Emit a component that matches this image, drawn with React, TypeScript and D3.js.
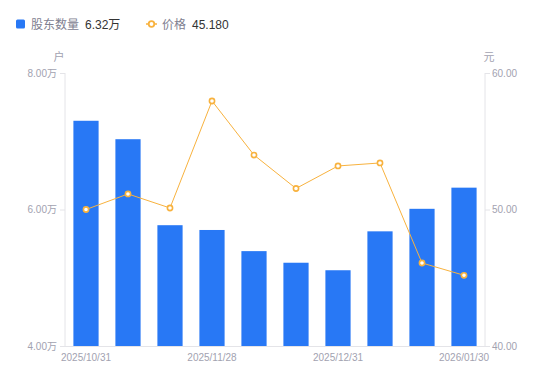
import React from "react";
import * as d3 from "d3";

const categories = [
  "2025/10/31", "2025/11/10", "2025/11/20", "2025/11/28", "2025/12/10",
  "2025/12/20", "2025/12/31", "2026/01/09", "2026/01/20", "2026/01/30",
];
const holders = [7.30, 7.03, 5.77, 5.70, 5.39, 5.22, 5.11, 5.68, 6.01, 6.32];
const prices = [50.0, 51.14, 50.11, 57.95, 53.99, 51.54, 53.19, 53.41, 46.08, 45.18];
const leftTicks = [4, 6, 8];
const rightTicks = [40, 50, 60];
const shownLabels = ["2025/10/31", "2025/11/28", "2025/12/31", "2026/01/30"];

const W = 550, H = 381;
const L = 65, R = 485, T = 73, B = 346;
const BLUE = "#2878f5";
const ORANGE = "#f8b23e";
const AXIS = "#e4e4e8";
const TXT = "#a2a2b0";
const FONT = "'Liberation Sans', Arial, 'Noto Sans CJK SC', sans-serif";

export default function App() {
  const x = d3.scaleBand<string>().domain(categories).range([L, R]).paddingInner(0).paddingOuter(0);
  const yl = d3.scaleLinear().domain([4, 8]).range([B, T]);
  const yr = d3.scaleLinear().domain([40, 60]).range([B, T]);
  const bw = x.bandwidth();
  const cx = (c: string) => (x(c) as number) + bw / 2;
  const line = d3.line<number>().x((_, i) => cx(categories[i])).y((d) => yr(d));

  return (
    <svg width={W} height={H} style={{ position: "absolute", left: 0, top: 0, fontFamily: FONT }}>
      {/* legend */}
      <rect x={16} y={19.5} width={9} height={9} rx={1.5} fill={BLUE} />
      <text x={31} y={28.5} fontSize={12} fill="#808090">股东数量</text>
      <text x={85} y={28.5} fontSize={12} fill="#333">6.32万</text>
      <line x1={146} x2={157} y1={24} y2={24} stroke={ORANGE} strokeWidth={1.5} />
      <circle cx={151.5} cy={24} r={2.8} fill="#fff" stroke={ORANGE} strokeWidth={1.8} />
      <text x={162} y={28.5} fontSize={12} fill="#808090">价格</text>
      <text x={192} y={28.5} fontSize={12} fill="#333">45.180</text>

      {/* units */}
      <text x={59} y={61} fontSize={11} fill={TXT} textAnchor="middle">户</text>
      <text x={489} y={61} fontSize={11} fill={TXT} textAnchor="middle">元</text>

      {/* axes */}
      <line x1={L} x2={L} y1={T} y2={B} stroke={AXIS} />
      <line x1={R} x2={R} y1={T} y2={B} stroke={AXIS} />
      <line x1={L} x2={R} y1={B + 0.5} y2={B + 0.5} stroke={AXIS} />
      {leftTicks.map((t) => (
        <g key={"l" + t}>
          <line x1={L - 5} x2={L} y1={yl(t) + 0.5} y2={yl(t) + 0.5} stroke={AXIS} />
          <text x={57} y={yl(t) + 3.5} fontSize={10} fill={TXT} textAnchor="end">{t.toFixed(2) + "万"}</text>
        </g>
      ))}
      {rightTicks.map((t) => (
        <g key={"r" + t}>
          <line x1={R} x2={R + 5} y1={yr(t) + 0.5} y2={yr(t) + 0.5} stroke={AXIS} />
          <text x={492} y={yr(t) + 3.5} fontSize={10} fill={TXT}>{t.toFixed(2)}</text>
        </g>
      ))}
      {categories.map((c) =>
        shownLabels.includes(c) ? (
          <text key={"x" + c} x={cx(c)} y={361} fontSize={10} fill={TXT} textAnchor="middle">{c}</text>
        ) : null
      )}

      {/* bars */}
      {holders.map((v, i) => (
        <rect key={"b" + i} x={(x(categories[i]) as number) + bw * 0.2} y={yl(v)} width={bw * 0.6} height={B - yl(v)} fill={BLUE} />
      ))}

      {/* line */}
      <path d={line(prices) || ""} fill="none" stroke={ORANGE} strokeWidth={1} />
      {prices.map((v, i) => (
        <circle key={"p" + i} cx={cx(categories[i])} cy={yr(v)} r={2.6} fill="#fff" stroke={ORANGE} strokeWidth={1.6} />
      ))}
    </svg>
  );
}
